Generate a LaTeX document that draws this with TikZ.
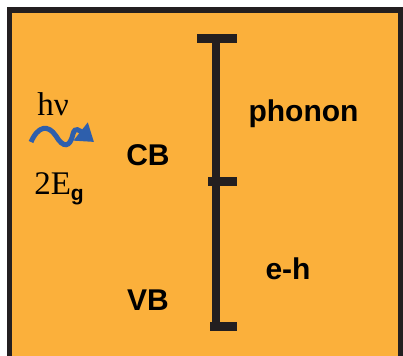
\documentclass[tikz,border=0pt]{standalone}
\usepackage{fontspec}
\setmainfont{Liberation Serif}
\setsansfont{Liberation Sans}
\usetikzlibrary{arrows.meta}
\definecolor{bgorange}{RGB}{251,176,59}
\definecolor{framedark}{RGB}{35,31,32}
\definecolor{photonblue}{RGB}{46,95,172}
\begin{document}
\begin{tikzpicture}[x=1pt, y=-1pt,
      band/.style={font=\sffamily\bfseries\fontsize{30}{33}\selectfont, inner sep=0pt, anchor=base},
      serifl/.style={font=\fontsize{33}{36}\selectfont, inner sep=0pt, anchor=base},
      bar/.style={draw=framedark, line width=8pt},
      tick/.style={draw=framedark, line width=9pt},
      photon/.style={draw=photonblue, line width=5pt,
        -{Triangle[width=22pt, length=17pt]}}
    ]
    \useasboundingbox (0,0) rectangle (403,355);
    \fill[white] (0,0) rectangle (403,355);
    \draw[draw=framedark, fill=bgorange, line width=5.5pt] (9.5,10) rectangle (400.5,359);
    % energy axis
    \coordinate (top) at (216,38.5);
    \coordinate (mid) at (216,181);
    \coordinate (bot) at (216,326.5);
    \draw[bar] (top) -- (bot);
    \draw[tick] (197,38.5) -- (237,38.5);
    \draw[tick] (208,181) -- (237,181);
    \draw[tick] (210,326.5) -- (237,326.5);
    % labels
    \node[band] (ph) at (303.5,122) {phonon};
    \node[band] (cb) at (148,166) {CB};
    \node[band] (vb) at (148,310) {VB};
    \node[band] (eh) at (288,279) {e-h};
    \node[serifl] (hv) at (53,116) {hν};
    \node[serifl] (eg) at (59,194) {2E\raisebox{-6pt}{\sffamily\bfseries\fontsize{21}{23}\selectfont g}};
    % photon
    \coordinate (w0) at (31,142);
    \coordinate (w1) at (94,142);
    \draw[photon] (w0) .. controls (38,126) and (48,124) .. (56,136)
      .. controls (63,148) and (70,148) .. (73,134)
      .. controls (75,126) and (80,131) .. (w1);
  \end{tikzpicture}
\end{document}
